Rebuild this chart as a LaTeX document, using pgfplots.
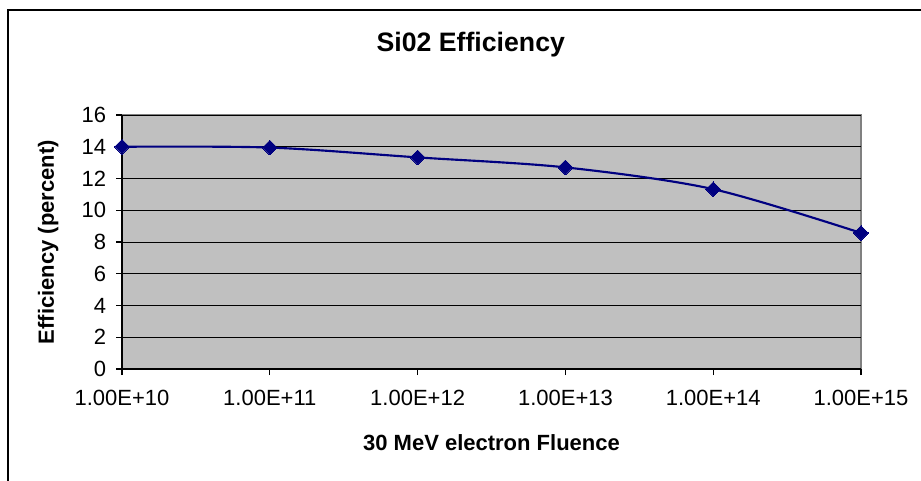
\documentclass[border=0pt]{standalone}
\usepackage{fontspec}
\setmainfont{Liberation Sans}
\usepackage{pgfplots}
\pgfplotsset{compat=1.18}
\definecolor{excelgray}{HTML}{C0C0C0}
\definecolor{bordergray}{HTML}{808080}
\definecolor{navyline}{HTML}{000080}
\begin{document}
\begin{tikzpicture}
\useasboundingbox (0,0) rectangle (690.75pt,360pt);
\fill[white] (0,0) rectangle (690.75pt,360pt);
\draw[line width=1.1pt,black] (6pt,-10pt) -- (6pt,352.5pt) -- (700pt,352.5pt);
\begin{axis}[
  at={(91.5pt,83.25pt)}, anchor=south west,
  scale only axis,
  width=554.25pt, height=190.5pt,
  xmode=log,
  xmin=1e10, xmax=1e15,
  ymin=0, ymax=16,
  xtick={1e10,1e11,1e12,1e13,1e14,1e15},
  xticklabels={1.00E+10,1.00E+11,1.00E+12,1.00E+13,1.00E+14,1.00E+15},
  ytick={0,2,4,6,8,10,12,14,16},
  xminorticks=false,
  axis x line*=bottom, axis y line*=left,
  axis line style={black, line width=0.9pt},
  axis background/.style={fill=excelgray, draw=bordergray, line width=1.2pt},
  tick align=outside,
  major tick length=4.5pt,
  tick style={black, line width=0.8pt},
  ymajorgrids,
  major grid style={black, line width=0.7pt},
  /pgf/number format/assume math mode=true,
  tick label style={font=\fontsize{16.5}{19}\selectfont},
  yticklabel style={xshift=-4pt},
  xticklabel style={yshift=-8pt},
  title={Si02 Efficiency},
  title style={font=\fontsize{20}{24}\selectfont\bfseries, at={(axis description cs:0.472,1.245)}, anchor=center, yshift=0pt},
  xlabel={30 MeV electron Fluence},
  xlabel style={font=\fontsize{16.5}{20}\selectfont\bfseries, at={(axis description cs:0.5,-0.29)}, anchor=center},
  ylabel={Efficiency (percent)},
  ylabel style={font=\fontsize{16.5}{20}\selectfont\bfseries, at={(axis description cs:-0.100,0.5)}, anchor=center},
  clip=false,
]
\addplot[navyline, line width=1.6pt, smooth, tension=0.5,
  mark=square*, mark size=3.9pt, mark options={rotate=45, fill=navyline, draw=navyline, line width=0pt}]
  coordinates {
  (1e10,14.0)
  (1e11,13.95)
  (1e12,13.33)
  (1e13,12.70)
  (1e14,11.33)
  (1e15,8.57)
  };
\end{axis}
\end{tikzpicture}
\end{document}
